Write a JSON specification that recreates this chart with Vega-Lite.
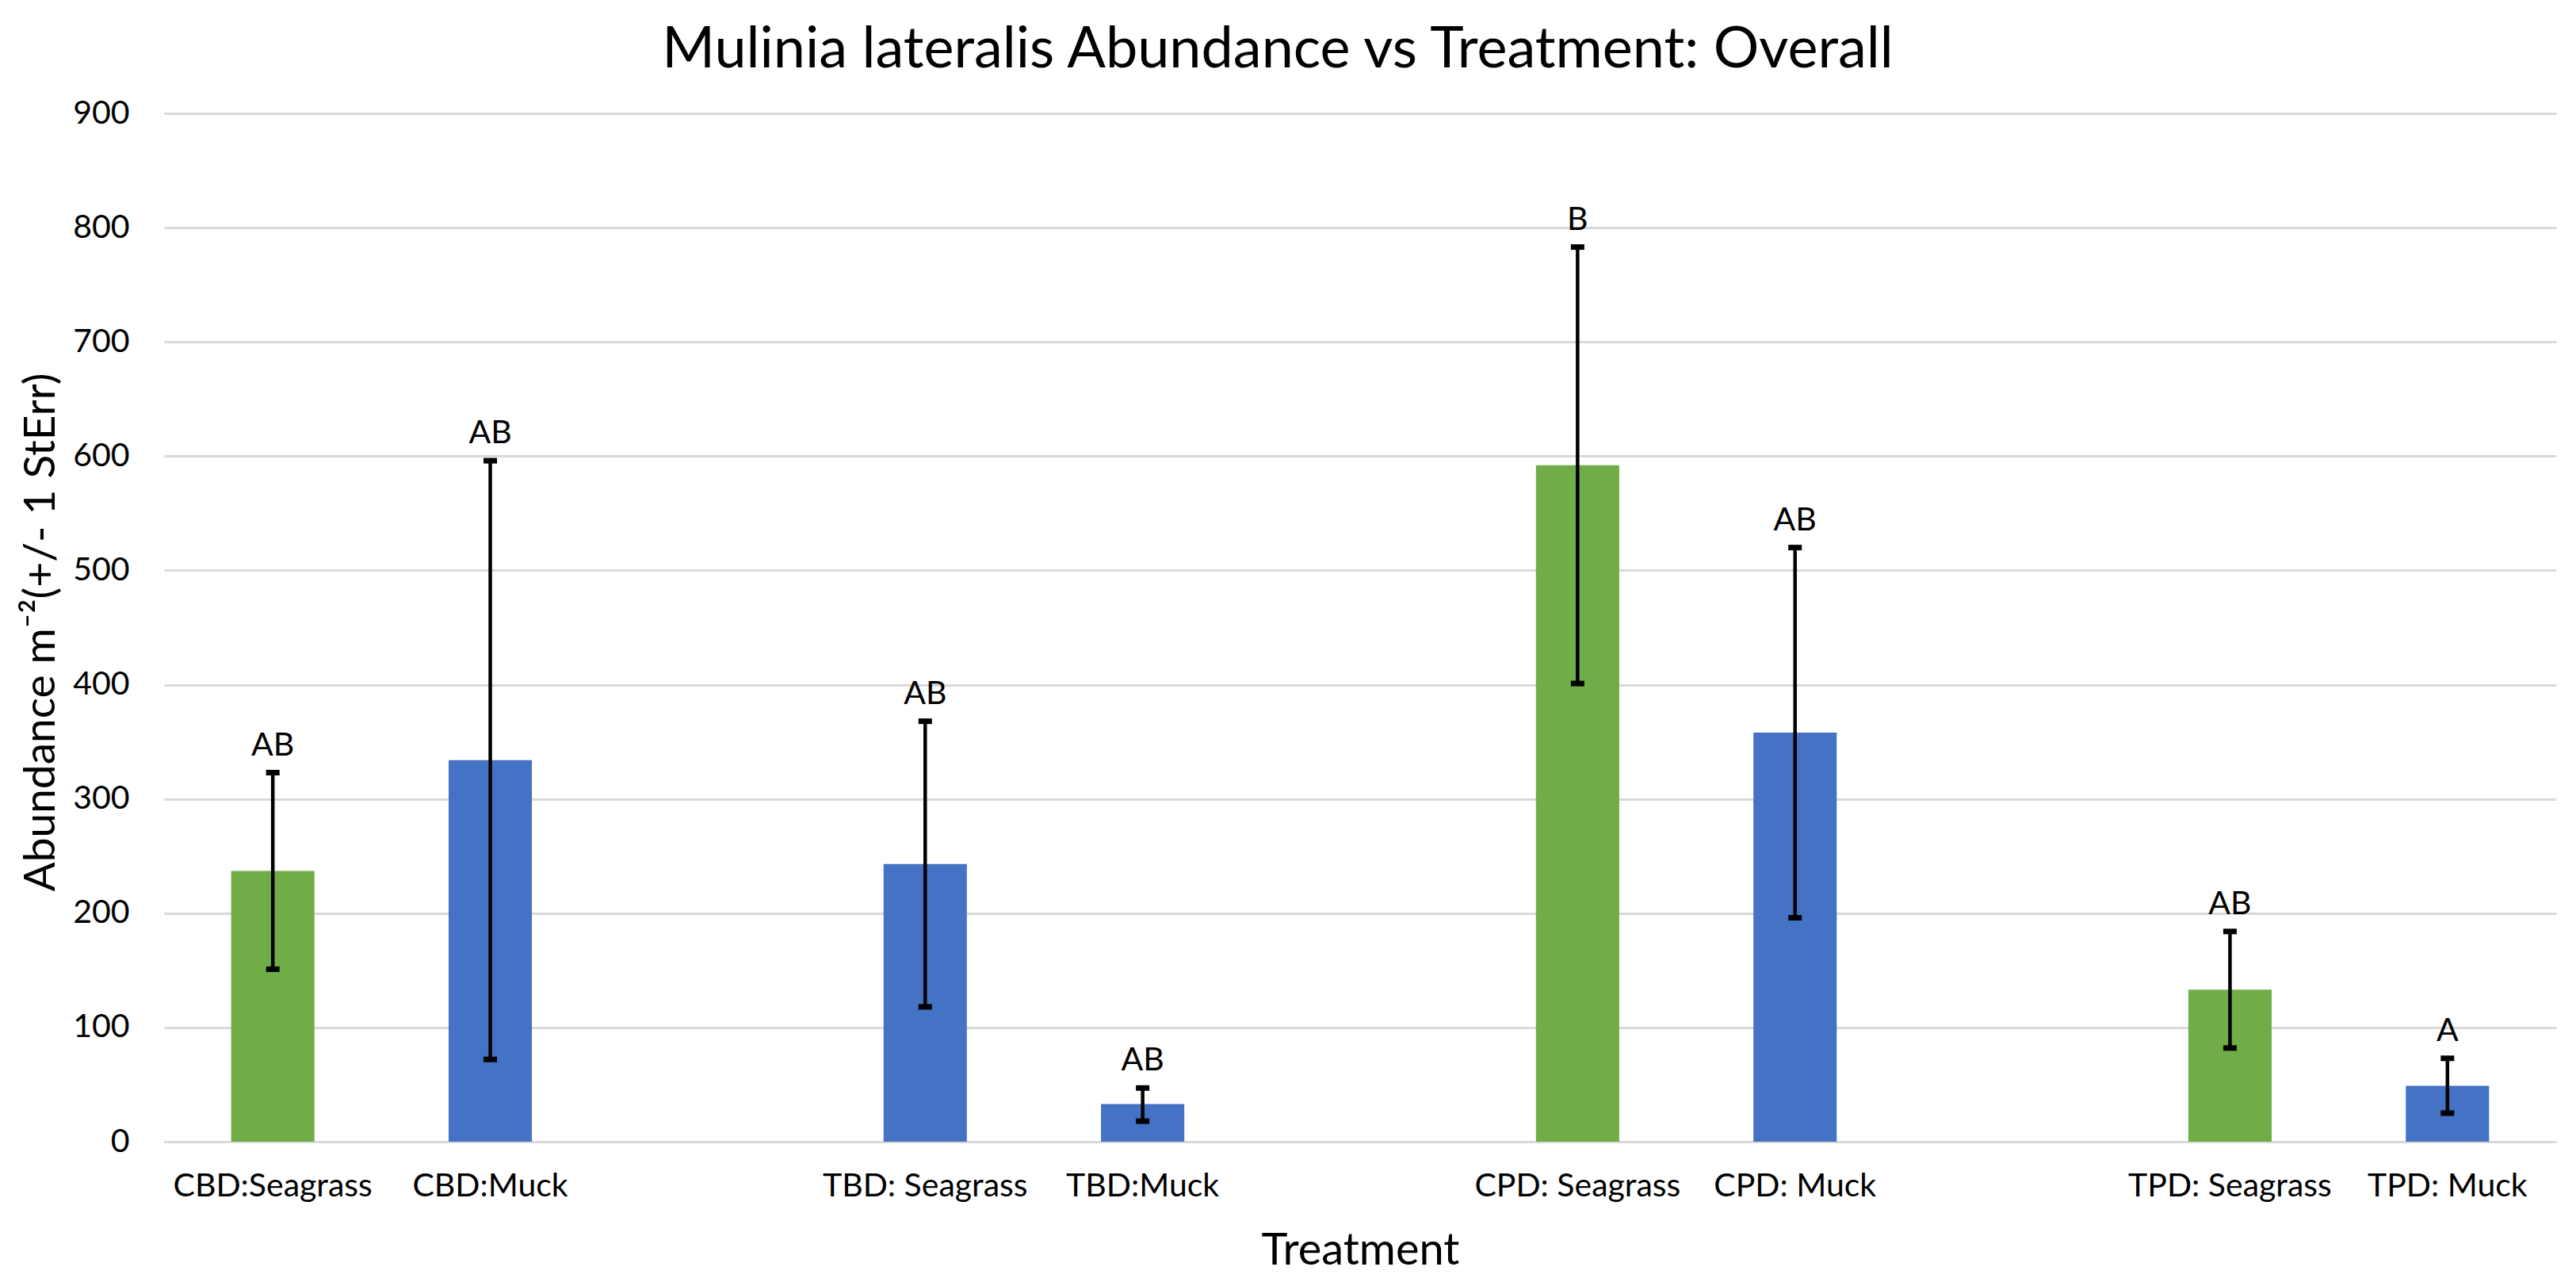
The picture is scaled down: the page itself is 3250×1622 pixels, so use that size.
{
  "$schema": "https://vega.github.io/schema/vega-lite/v6.json",
  "width": 3018,
  "height": 1297,
  "autosize": {"type": "none"},
  "padding": {"left": 207, "top": 143, "right": 25, "bottom": 182},
  "background": "white",
  "title": {
    "text": "Mulinia lateralis Abundance vs Treatment: Overall",
    "font": "Lato",
    "fontSize": 72,
    "fontWeight": "normal",
    "color": "#000000",
    "anchor": "middle",
    "dx": -104,
    "offset": 22,
    "limit": 0
  },
  "config": {
    "view": {"stroke": null},
    "font": "Lato"
  },
  "data": {
    "values": [
      {"treatment": "CBD:Seagrass", "mean": 237, "lower": 151, "upper": 323, "letter": "AB"},
      {"treatment": "CBD:Muck", "mean": 334, "lower": 72, "upper": 596, "letter": "AB"},
      {"treatment": "TBD: Seagrass", "mean": 243, "lower": 118, "upper": 368, "letter": "AB"},
      {"treatment": "TBD:Muck", "mean": 33, "lower": 18, "upper": 47, "letter": "AB"},
      {"treatment": "CPD: Seagrass", "mean": 592, "lower": 401, "upper": 783, "letter": "B"},
      {"treatment": "CPD: Muck", "mean": 358, "lower": 196, "upper": 520, "letter": "AB"},
      {"treatment": "TPD: Seagrass", "mean": 133, "lower": 82, "upper": 184, "letter": "AB"},
      {"treatment": "TPD: Muck", "mean": 49, "lower": 25, "upper": 73, "letter": "A"}
    ]
  },
  "encoding": {
    "x": {
      "field": "treatment",
      "type": "nominal",
      "scale": {
        "domain": ["CBD:Seagrass", "CBD:Muck", " ", "TBD: Seagrass", "TBD:Muck", "  ", "CPD: Seagrass", "CPD: Muck", "   ", "TPD: Seagrass", "TPD: Muck"],
        "paddingInner": 0,
        "paddingOuter": 0
      },
      "axis": {
        "title": "Treatment",
        "titleFont": "Lato",
        "titleFontSize": 56,
        "titleFontWeight": "normal",
        "titleColor": "#000000",
        "titlePadding": 34,
        "labelFont": "Lato",
        "labelFontSize": 41,
        "labelColor": "#000000",
        "labelAngle": 0,
        "labelPadding": 36,
        "labelLimit": 0,
        "labelOverlap": false,
        "ticks": false,
        "grid": false,
        "domain": true,
        "domainColor": "#d9d9d9",
        "domainWidth": 3
      }
    }
  },
  "layer": [
    {
      "mark": {"type": "bar", "width": {"band": 0.383}},
      "encoding": {
        "y": {
          "field": "mean",
          "type": "quantitative",
          "scale": {"domain": [0, 900], "nice": false},
          "axis": {
            "title": "Abundance m⁻²(+/- 1 StErr)",
            "titleFont": "Lato",
            "titleFontSize": 55,
            "titleFontWeight": "normal",
            "titleColor": "#000000",
            "titleX": -156,
            "titleY": 654,
            "titleAngle": 270,
            "titleBaseline": "middle",
            "titleAlign": "center",
            "values": [0, 100, 200, 300, 400, 500, 600, 700, 800, 900],
            "labelFont": "Lato",
            "labelFontSize": 41,
            "labelColor": "#000000",
            "labelPadding": 44,
            "ticks": false,
            "domain": false,
            "grid": true,
            "gridColor": "#d9d9d9",
            "gridWidth": 3
          }
        },
        "color": {
          "field": "treatment",
          "type": "nominal",
          "scale": {
            "domain": ["CBD:Seagrass", "CBD:Muck", "TBD: Seagrass", "TBD:Muck", "CPD: Seagrass", "CPD: Muck", "TPD: Seagrass", "TPD: Muck"],
            "range": ["#70AD47", "#4472C4", "#4472C4", "#4472C4", "#70AD47", "#4472C4", "#70AD47", "#4472C4"]
          },
          "legend": null
        }
      }
    },
    {
      "mark": {"type": "rule", "color": "#000000", "strokeWidth": 4.5},
      "encoding": {
        "y": {"field": "lower", "type": "quantitative"},
        "y2": {"field": "upper"}
      }
    },
    {
      "mark": {"type": "tick", "color": "#000000", "thickness": 7, "size": 17, "opacity": 1},
      "encoding": {
        "y": {"field": "upper", "type": "quantitative"}
      }
    },
    {
      "mark": {"type": "tick", "color": "#000000", "thickness": 7, "size": 17, "opacity": 1},
      "encoding": {
        "y": {"field": "lower", "type": "quantitative"}
      }
    },
    {
      "mark": {"type": "text", "baseline": "alphabetic", "align": "center", "dy": -22, "fontSize": 41, "font": "Lato", "color": "#000000"},
      "encoding": {
        "y": {"field": "upper", "type": "quantitative"},
        "text": {"field": "letter"}
      }
    }
  ]
}
